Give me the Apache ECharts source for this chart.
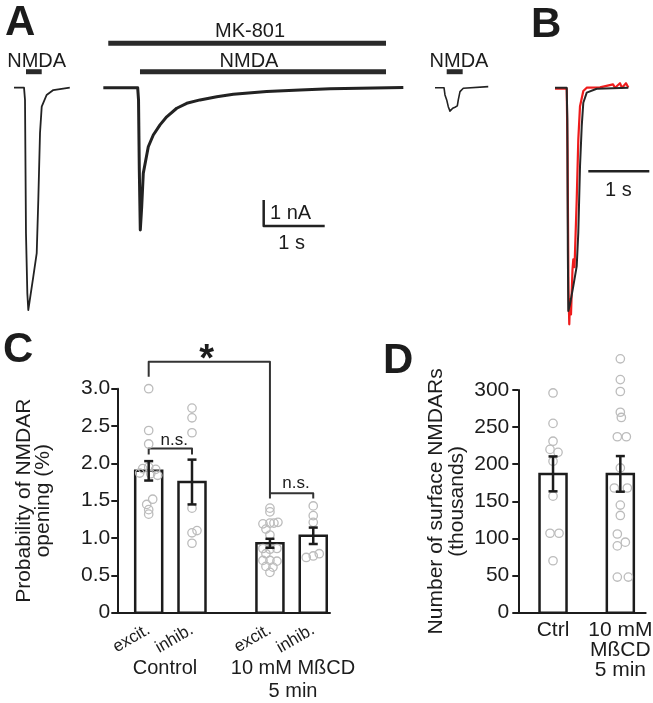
<!DOCTYPE html>
<html><head><meta charset="utf-8">
<script src="https://cdn.jsdelivr.net/npm/echarts@6/dist/echarts.min.js"></script>
<style>html,body{margin:0;padding:0;background:#fff}#c{width:653px;height:703px}</style>
</head><body><div id="c"></div>
<script>
// ================= DATA =================
// Panel A: whole-cell currents, [time (s), current (nA)]
const traceA1 = [[0.066,0],[0.23,0],[0.246,-0.47],[0.262,-5.6],[0.284,-7.9],[0.30,-8.55],[0.382,-7.27],[0.438,-6.36],[0.464,-4.32],[0.492,-1.74],[0.52,-0.73],[0.60,-0.28],[0.71,-0.09],[0.98,0]];
const traceA2 = [[1.53,0],[2.093,0],[2.107,-0.47],[2.12,-3.17],[2.136,-5.47],[2.159,-4.58],[2.185,-3.29],[2.267,-2.27],[2.349,-1.82],[2.459,-1.43],[2.569,-1.12],[2.733,-0.79],[2.897,-0.60],[3.115,-0.47],[3.389,-0.35],[3.661,-0.25],[4.208,-0.15],[4.754,-0.09],[5.246,-0.04],[6.448,0.01]];
const traceA3 = [[6.967,0],[7.115,0],[7.131,-0.28],[7.159,-0.47],[7.185,-0.73],[7.213,-0.9],[7.257,-0.79],[7.295,-0.75],[7.333,-0.7],[7.349,-0.47],[7.377,-0.15],[7.431,-0.02],[7.84,0.04]];
// Drug application intervals (s)
const stimNMDA = [[0.262,0.52],[2.131,6.164],[7.159,7.421]];
const stimMK801 = [[1.611,6.164]];
// Panel B: overlaid currents [time (s), current (nA)]
const traceBblack = [[0.246,0],[0.438,0],[0.448,-1.22],[0.456,-6.2],[0.464,-8.59],[0.492,-8.33],[0.546,-7.63],[0.602,-6.86],[0.628,-5.57],[0.656,-3.02],[0.684,-1.48],[0.71,-0.58],[0.766,-0.19],[0.93,-0.04],[1.448,0]];
const traceBred = [[0.246,-0.04],[0.438,-0.04],[0.451,-2.37],[0.467,-7.76],[0.48,-9.1],[0.492,-8.14],[0.508,-8.72],[0.52,-7.88],[0.533,-6.99],[0.546,-6.6],[0.566,-6.9],[0.602,-4.3],[0.628,-1.99],[0.656,-0.71],[0.71,-0.13],[0.766,0],[0.984,0.01],[1.197,0.13],[1.23,0],[1.311,0.17],[1.344,0],[1.41,0.17],[1.448,0.01]];
const scaleTime = 1;   // s
const scaleCurrent = 1; // nA

// Panel C: probability of NMDAR opening (%)
const catsC = ['excit.','inhib.','excit.','inhib.'];
const groupsC = ['Control','10 mM MßCD','5 min'];
const meanC = [1.90,1.75,0.93,1.03];
const semC = [0.13,0.30,0.06,0.11];
const ptsCtrlExc = [3.00,2.44,2.26,1.95,1.93,1.92,1.87,1.86,1.84,1.52,1.45,1.38,1.32];
const ptsCtrlInh = [2.74,2.61,2.41,1.40,1.10,1.07,0.93];
const ptsMbExc = [1.40,1.35,1.19,1.20,1.20,1.21,1.12,1.04,0.86,0.85,0.86,0.79,0.70,0.70,0.69,0.62,0.61,0.54];
const ptsMbInh = [1.43,1.30,1.21,0.74,0.76,0.79];
const ticksC = [0,0.5,1.0,1.5,2.0,2.5,3.0];
const sigLabels = ['*','n.s.','n.s.'];

// Panel D: number of surface NMDARs (thousands)
const catsD = ['Ctrl','10 mM\nMßCD\n5 min'];
const meanD = [187,187];
const semD = [23.5,24];
const ptsDCtrl = [296,255,231,220,216,204,157,107,107,70];
const ptsDMb = [342,314,298,270,263,237,237,195,168,168,145,131,106,95,90,48,48];
const ticksD = [0,50,100,150,200,250,300];

// ================= LAYOUT =================
const FONT = '"Liberation Sans", Arial, Helvetica, sans-serif';
const INK = '#1c1c1c';
const posC = [1,2,3.8,4.8];
const posD = [1,2];
const jitCtrlExc = [0,0,0,0,-6,7,-9,2,9,4,-2,0,0];
const jitCtrlInh = [0,0,0,0,5,0,0];
const jitMbExc = [0,0,-7,0,4,8,-4,0,-7,0,7,-4,-7,0,7,-4,3,0];
const jitMbInh = [0,0,0,-7,0,6];
const jitDCtrl = [0,0,0,-3,5,0,0,-3,6,0];
const jitDMb = [0,0,0,0,1,-3,6,0,-6,7,0,0,-3,5,-3,-3,8];
const rowMK = 1.708, rowNMDA = 0.615;
const scaleA = [4.159,-5.32], scaleB = [0.792,-3.21];
const barW = 27;

// ================= BUILD =================
function dots(vals, jit, x){ return vals.map((v,i)=>[x, v, jit[i]]); }
const dotsC = [].concat(dots(ptsCtrlExc,jitCtrlExc,posC[0]), dots(ptsCtrlInh,jitCtrlInh,posC[1]), dots(ptsMbExc,jitMbExc,posC[2]), dots(ptsMbInh,jitMbInh,posC[3]));
const dotsD = [].concat(dots(ptsDCtrl,jitDCtrl,posD[0]), dots(ptsDMb,jitDMb,posD[1]));

function barRender(params, api){
  const x = api.value(0), y = api.value(1);
  const p0 = api.coord([x,0]), p1 = api.coord([x,y]);
  return {type:'rect', shape:{x:p0[0]-barW/2, y:p1[1], width:barW, height:p0[1]-p1[1]},
    style:{fill:'#fff', stroke:INK, lineWidth:2.5}};
}
function dotRender(params, api){
  const p = api.coord([api.value(0), api.value(1)]);
  return {type:'circle', shape:{cx:p[0]+api.value(2), cy:p[1], r:4.2},
    style:{fill:'none', stroke:'#bcbcbc', lineWidth:1.3}};
}
function errRender(params, api){
  const x = api.value(0);
  const lo = api.coord([x, api.value(1)]), hi = api.coord([x, api.value(2)]);
  const c = 4.5, st = {stroke:INK, lineWidth:2.5};
  return {type:'group', children:[
    {type:'line', shape:{x1:lo[0],y1:lo[1],x2:hi[0],y2:hi[1]}, style:st},
    {type:'line', shape:{x1:lo[0]-c,y1:lo[1],x2:lo[0]+c,y2:lo[1]}, style:st},
    {type:'line', shape:{x1:hi[0]-c,y1:hi[1],x2:hi[0]+c,y2:hi[1]}, style:st}
  ]};
}
function textRender(params, api){
  const p = api.coord([api.value(0), api.value(1)]);
  const star = api.value(2) === 1;
  return {type:'text', x:p[0], y:p[1], style:{text: sigLabels[params.dataIndex], fill:INK,
    font: (star ? 'bold 38px ' : '17px ') + FONT, align:'center', verticalAlign:'middle',
    textAlign:'center', textVerticalAlign:'middle'}};
}
function lineS(data, xi, color, w, z){
  return {type:'line', xAxisIndex:xi, yAxisIndex:xi, data, symbol:'none', clip:false, silent:true,
    animation:false, lineStyle:{color, width:w, join:'round', cap:'butt'}, z:z||2};
}

const series = [];
// Panel A
series.push(lineS(traceA1,0,'#222',1.8));
series.push(lineS(traceA2,0,'#222',3));
series.push(lineS(traceA3,0,'#222',1.6));
stimNMDA.forEach(s=>series.push(lineS([[s[0],rowNMDA],[s[1],rowNMDA]],0,'#2a2a2a',5)));
stimMK801.forEach(s=>series.push(lineS([[s[0],rowMK],[s[1],rowMK]],0,'#2a2a2a',5)));
series.push(lineS([[scaleA[0],scaleA[1]+scaleCurrent],[scaleA[0],scaleA[1]],[scaleA[0]+scaleTime,scaleA[1]]],0,'#222',2.5));
// Panel B
series.push(lineS(traceBred,1,'#ee1c1c',2.2,2));
series.push(lineS(traceBblack,1,'#262626',2,3));
series.push(lineS([[scaleB[0],scaleB[1]],[scaleB[0]+scaleTime,scaleB[1]]],1,'#222',2.5));
// Panel C
series.push({type:'custom', xAxisIndex:2, yAxisIndex:2, data:posC.map((p,i)=>[p,meanC[i]]), renderItem:barRender, encode:{x:0,y:1}, z:2, animation:false});
series.push({type:'custom', xAxisIndex:2, yAxisIndex:2, data:dotsC, renderItem:dotRender, encode:{x:0,y:1}, z:3, animation:false});
series.push({type:'custom', xAxisIndex:2, yAxisIndex:2, data:posC.map((p,i)=>[p,meanC[i]-semC[i],meanC[i]+semC[i]]), renderItem:errRender, encode:{x:0,y:[1,2]}, z:4, animation:false});
series.push(lineS([[posC[0],3.16],[posC[0],3.36],[posC[2],3.36],[posC[2],1.60]],2,'#333',2));
series.push(lineS([[posC[0],2.12],[posC[0],2.20],[posC[1],2.20],[posC[1],2.12]],2,'#333',2));
series.push(lineS([[posC[2],1.53],[posC[2],1.60],[posC[3],1.60],[posC[3],1.53]],2,'#333',2));
series.push({type:'custom', xAxisIndex:2, yAxisIndex:2, data:[[2.34,3.38,1],[1.59,2.31,0],[4.40,1.73,0]], renderItem:textRender, encode:{x:0,y:1}, z:5, animation:false});
// Panel D
series.push({type:'custom', xAxisIndex:3, yAxisIndex:3, data:posD.map((p,i)=>[p,meanD[i]]), renderItem:barRender, encode:{x:0,y:1}, z:2, animation:false});
series.push({type:'custom', xAxisIndex:3, yAxisIndex:3, data:dotsD, renderItem:dotRender, encode:{x:0,y:1}, z:3, animation:false});
series.push({type:'custom', xAxisIndex:3, yAxisIndex:3, data:posD.map((p,i)=>[p,meanD[i]-semD[i],meanD[i]+semD[i]]), renderItem:errRender, encode:{x:0,y:[1,2]}, z:4, animation:false});

const hiddenX = (min,max,gi)=>({type:'value', gridIndex:gi, min, max, show:false});
const axisLineStyle = {show:true, lineStyle:{color:INK, width:2}};
const txt = (text,x,y,size,opt)=>Object.assign({type:'text', x, y, silent:true, style:{text, fill:INK,
  font:(opt&&opt.bold?'bold ':'')+size+'px '+FONT, align:(opt&&opt.align)||'center', verticalAlign:'middle',
  textAlign:(opt&&opt.align)||'center', textVerticalAlign:'middle'}});

const option = {
  animation:false,
  backgroundColor:'#fff',
  grid:[
    {left:10, top:9.7, width:488, height:325, containLabel:false, outerBoundsMode:'none'},
    {left:540, top:9.7, width:109.8, height:325, containLabel:false, outerBoundsMode:'none'},
    {left:117.3, top:388.7, width:212.7, height:224, containLabel:false, outerBoundsMode:'none'},
    {left:518.3, top:390, width:127.4, height:222.7, containLabel:false, outerBoundsMode:'none'}
  ],
  xAxis:[
    hiddenX(0,8,0), hiddenX(0,1.8,1),
    {type:'value', gridIndex:2, min:0.275, max:5.187, axisLine:axisLineStyle, axisTick:{show:false}, splitLine:{show:false},
      axisLabel:{customValues:posC, formatter:v=>catsC[posC.indexOf(v)], rotate:30, margin:16, fontSize:17, fontFamily:FONT, color:INK}},
    {type:'value', gridIndex:3, min:0.484, max:2.377, axisLine:axisLineStyle, axisTick:{show:false}, splitLine:{show:false},
      axisLabel:{customValues:posD, formatter:v=>catsD[posD.indexOf(v)], margin:8, fontSize:21, lineHeight:20, fontFamily:FONT, color:INK}}
  ],
  yAxis:[
    {type:'value', gridIndex:0, min:-9.5, max:3, show:false},
    {type:'value', gridIndex:1, min:-9.5, max:3, show:false},
    {type:'value', gridIndex:2, min:ticksC[0], max:ticksC[ticksC.length-1], interval:0.5, axisLine:axisLineStyle,
      axisTick:{show:true, length:6, lineStyle:{color:INK,width:2}}, splitLine:{show:false},
      axisLabel:{margin:7, fontSize:21, fontFamily:FONT, color:INK, formatter:v=>v===0?'0':v.toFixed(1)},
      name:'Probability of NMDAR\nopening (%)', nameLocation:'middle', nameGap:65,
      nameTextStyle:{fontSize:21, lineHeight:19, fontFamily:FONT, color:INK}},
    {type:'value', gridIndex:3, min:ticksD[0], max:ticksD[ticksD.length-1], interval:50, axisLine:axisLineStyle,
      axisTick:{show:true, length:6, lineStyle:{color:INK,width:2}}, splitLine:{show:false},
      axisLabel:{margin:9, fontSize:21, fontFamily:FONT, color:INK},
      name:'Number of surface NMDARs\n(thousands)', nameLocation:'middle', nameGap:51,
      nameTextStyle:{fontSize:21, lineHeight:21, fontFamily:FONT, color:INK}}
  ],
  graphic:[
    txt('A',5,23,42,{bold:true,align:'left'}),
    txt('B',531,25,42,{bold:true,align:'left'}),
    txt('C',3,350,42,{bold:true,align:'left'}),
    txt('D',383,361.5,42,{bold:true,align:'left'}),
    txt('NMDA',36.7,61.7,20),
    txt('MK-801',250,31.7,20),
    txt('NMDA',249,61.7,20),
    txt('NMDA',459,61.7,20),
    txt('1 nA',270,213,20,{align:'left'}),
    txt('1 s',291.7,243,20),
    txt('1 s',618.3,190,20),
    txt(groupsC[0],165,668,20),
    txt(groupsC[1],293,668,20),
    txt(groupsC[2],293,691.5,20)
  ],
  series
};
const chart = echarts.init(document.getElementById('c'), null, {renderer:'canvas'});
chart.setOption(option);
</script></body></html>
